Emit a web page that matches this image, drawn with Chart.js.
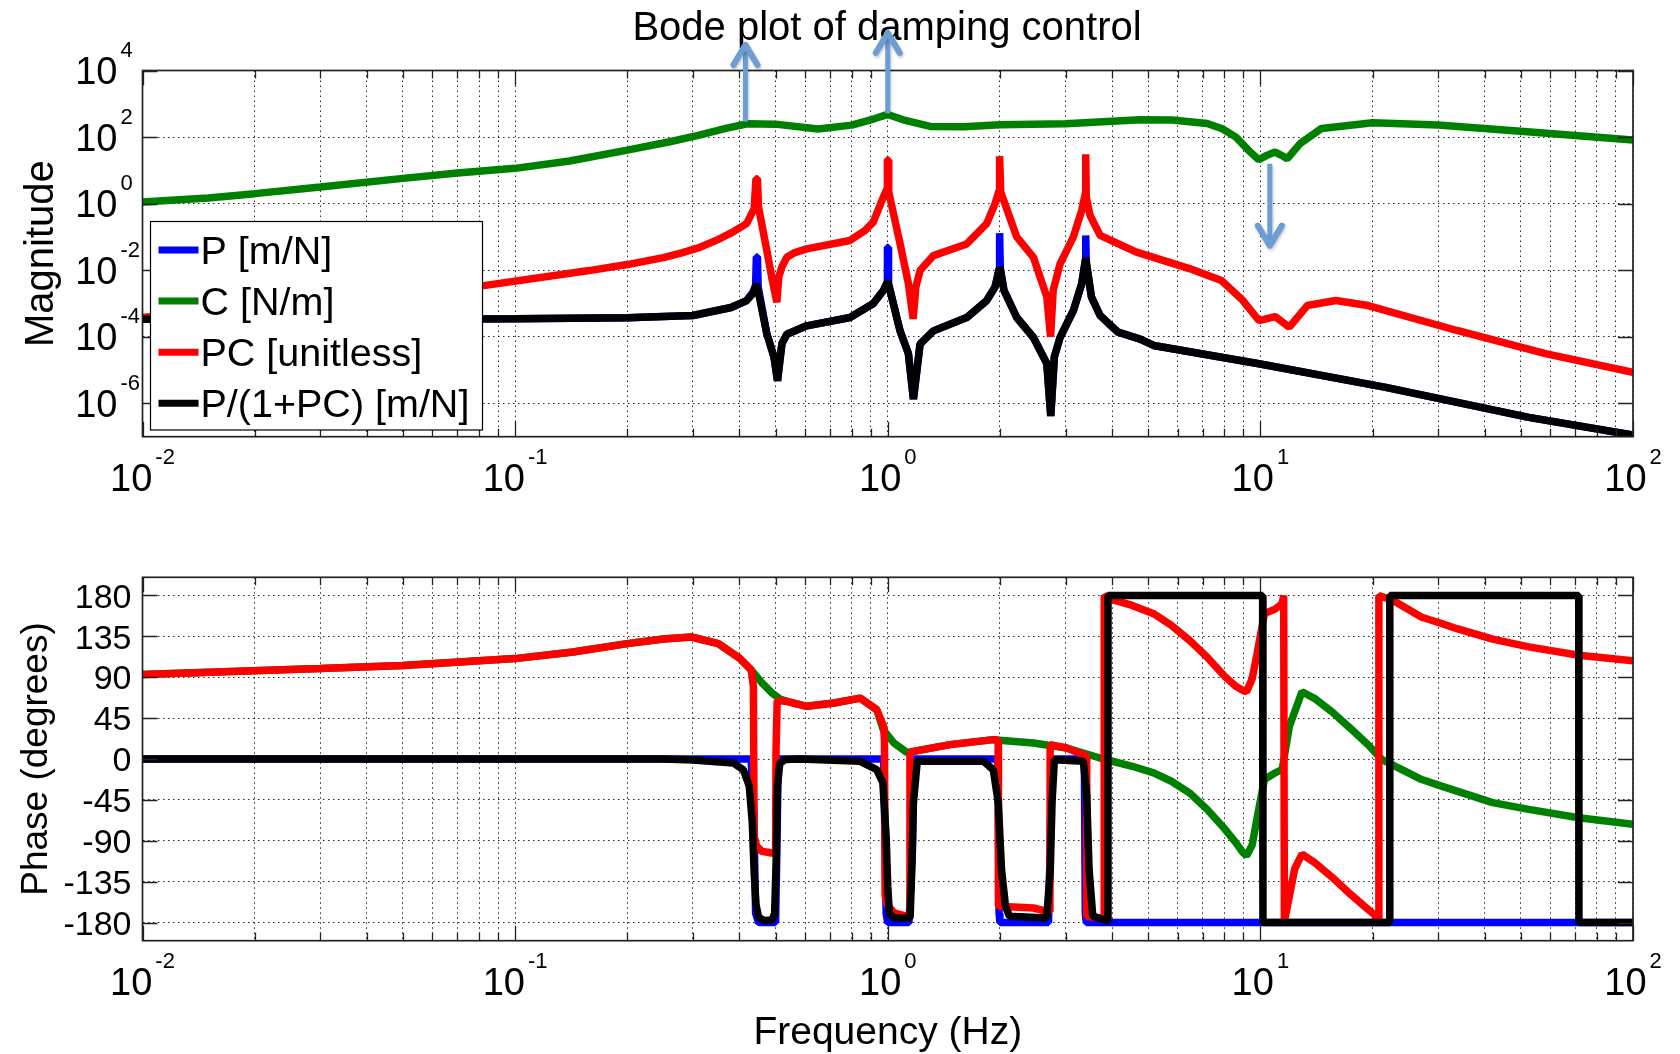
<!DOCTYPE html>
<html>
<head>
<meta charset="utf-8">
<title>Bode plot of damping control</title>
<script src="https://cdn.jsdelivr.net/npm/chart.js@4.4.1/dist/chart.umd.min.js"></script>
<style>
  html, body { margin: 0; padding: 0; background: #fff; }
  #wrap { position: relative; width: 1680px; height: 1054px; overflow: hidden; }
  canvas { position: absolute; left: 0; }
  #magChart { top: 0; }
  #phaseChart { top: 527px; }
</style>
</head>
<body>
<div id="wrap">
  <canvas id="magChart" width="1680" height="527"></canvas>
  <canvas id="phaseChart" width="1680" height="527"></canvas>
</div>
<script>
'use strict';

// ---- series ----
const SERIES_LABELS = ['P [m/N]', 'C [N/m]', 'PC [unitless]', 'P/(1+PC) [m/N]'];
const SERIES_COLORS = ['#0000ff', '#008000', '#ff0000', '#000000'];

// ---- magnitude (freq in Hz) ----
const P_MAG_F = [0.01, 0.05, 0.1, 0.2, 0.3, 0.38, 0.418, 0.435, 0.442, 0.444, 0.447, 0.449, 0.4735, 0.495, 0.506, 0.52, 0.536, 0.606, 0.792, 0.915, 0.973, 0.996, 0.998, 1.002, 1.005, 1.079, 1.136, 1.172, 1.221, 1.326, 1.629, 1.843, 1.941, 1.99, 1.993, 1.999, 2.005, 2.05, 2.219, 2.46, 2.672, 2.738, 2.8, 2.9, 3.149, 3.316, 3.39, 3.395, 3.402, 3.41, 3.52, 3.714, 4.15, 4.755, 5.17, 9.91, 21.7, 52.5, 100];
const P_MAG = [3.39e-4, 3.39e-4, 3.47e-4, 3.72e-4, 4.37e-4, 7.59e-4, 1.23e-3, 2.24e-3, 3.55e-3, 2.51e-2, 2.51e-2, 3.16e-3, 1.26e-4, 2.51e-5, 4.79e-6, 6.31e-5, 1.20e-4, 2.14e-4, 3.80e-4, 1.0e-3, 2.45e-3, 4.17e-3, 4.90e-2, 4.90e-2, 3.98e-3, 1.51e-4, 3.16e-5, 1.35e-6, 6.03e-5, 1.51e-4, 3.80e-4, 1.23e-3, 3.16e-3, 1.12e-2, 0.130, 0.130, 1.12e-2, 2.51e-3, 3.80e-4, 9.55e-5, 1.58e-5, 4.17e-7, 2.51e-5, 9.55e-5, 6.17e-4, 3.98e-3, 2.0e-2, 0.111, 0.111, 1.58e-2, 1.58e-3, 4.37e-4, 1.38e-4, 8.51e-5, 5.50e-5, 1.55e-5, 3.02e-6, 3.80e-7, 1.12e-7];

const C_MAG_F = [0.01, 0.015, 0.02, 0.03, 0.05, 0.07, 0.1, 0.14, 0.2, 0.26, 0.31, 0.37, 0.42, 0.5, 0.65, 0.8, 0.92, 1.0, 1.1, 1.3, 1.6, 2.0, 3.0, 4.75, 5.8, 7.2, 7.9, 8.6, 9.3, 9.9, 10.4, 10.95, 11.4, 11.8, 12.8, 14.6, 20, 30, 52, 100];
const C_MAG = [1.12, 1.48, 2.0, 3.16, 5.75, 8.32, 11.5, 19.1, 40.7, 72.4, 112, 186, 251, 245, 174, 229, 355, 479, 331, 209, 204, 234, 251, 331, 324, 257, 178, 100, 39.8, 20.9, 28.2, 35.5, 28.2, 22.4, 64.6, 182, 269, 229, 145, 81.3];

const PC_MAG_F = [0.01, 0.03, 0.0815, 0.158, 0.2, 0.25, 0.28, 0.31, 0.35, 0.38, 0.418, 0.438, 0.443, 0.447, 0.45, 0.4735, 0.49, 0.504, 0.51, 0.52, 0.536, 0.56, 0.606, 0.792, 0.87, 0.915, 0.973, 0.996, 0.998, 1.002, 1.006, 1.079, 1.136, 1.17, 1.19, 1.221, 1.326, 1.629, 1.843, 1.941, 1.99, 1.993, 1.999, 2.01, 2.219, 2.46, 2.672, 2.735, 2.78, 2.9, 3.149, 3.316, 3.39, 3.395, 3.402, 3.41, 3.49, 3.714, 4.63, 6.45, 7.86, 8.98, 9.91, 10.95, 11.96, 13.36, 15.94, 19.45, 33.7, 58.6, 100];
const PC_MAG = [3.80e-4, 1.12e-3, 3.39e-3, 9.77e-3, 1.48e-2, 2.40e-2, 3.31e-2, 4.68e-2, 8.32e-2, 0.132, 0.251, 0.708, 5.62, 5.62, 0.794, 3.98e-2, 5.01e-3, 1.10e-3, 6.31e-3, 1.26e-2, 2.45e-2, 3.31e-2, 4.37e-2, 7.85e-2, 0.158, 0.282, 1.58, 2.82, 21.1, 21.1, 2.24, 6.31e-2, 3.98e-3, 3.47e-4, 3.16e-3, 9.77e-3, 2.75e-2, 6.17e-2, 0.251, 1.0, 2.51, 26.6, 26.6, 2.24, 0.1, 2.45e-2, 1.58e-3, 1.0e-4, 2.51e-3, 1.55e-2, 0.1, 0.631, 2.0, 30.5, 30.5, 1.58, 0.447, 0.112, 3.55e-2, 1.12e-2, 4.90e-3, 1.23e-3, 3.09e-4, 4.07e-4, 1.95e-4, 8.71e-4, 1.23e-3, 8.71e-4, 1.55e-4, 3.09e-5, 8.51e-6];

const CL_MAG_F = [0.01, 0.05, 0.1, 0.2, 0.3, 0.38, 0.418, 0.435, 0.445, 0.4735, 0.495, 0.506, 0.52, 0.536, 0.606, 0.792, 0.915, 0.973, 1.0, 1.079, 1.136, 1.172, 1.221, 1.326, 1.629, 1.843, 1.941, 2.0, 2.05, 2.219, 2.46, 2.672, 2.738, 2.8, 2.9, 3.149, 3.316, 3.40, 3.52, 3.714, 4.15, 4.755, 5.17, 9.91, 21.7, 52.5, 100];
const CL_MAG = [3.39e-4, 3.39e-4, 3.47e-4, 3.72e-4, 4.37e-4, 7.59e-4, 1.23e-3, 2.0e-3, 3.89e-3, 1.26e-4, 2.51e-5, 4.79e-6, 6.31e-5, 1.20e-4, 2.14e-4, 3.80e-4, 1.0e-3, 2.45e-3, 4.68e-3, 1.51e-4, 3.16e-5, 1.35e-6, 6.03e-5, 1.51e-4, 3.80e-4, 1.23e-3, 3.16e-3, 1.23e-2, 2.51e-3, 3.80e-4, 9.55e-5, 1.58e-5, 4.17e-7, 2.51e-5, 9.55e-5, 6.17e-4, 3.98e-3, 2.34e-2, 1.58e-3, 4.37e-4, 1.38e-4, 8.51e-5, 5.50e-5, 1.55e-5, 3.02e-6, 3.80e-7, 1.12e-7];

// ---- phase (degrees) ----
const P_PH_F = [0.01, 0.43, 0.437, 0.442, 0.45, 0.5, 0.504, 0.508, 0.512, 0.975, 0.99, 1.0, 1.14, 1.165, 1.175, 1.975, 1.99, 2.0, 2.7, 2.73, 2.75, 3.37, 3.39, 3.41, 100];
const P_PH = [0, 0, -60, -170, -180, -180, -100, -5, 0, 0, -170, -180, -180, -100, 0, 0, -170, -180, -180, -90, 0, 0, -170, -180, -180];

const C_PH_F = [0.01, 0.03, 0.05, 0.1, 0.143, 0.2, 0.25, 0.297, 0.351, 0.40, 0.43, 0.459, 0.488, 0.514, 0.536, 0.606, 0.718, 0.843, 0.934, 0.973, 1.039, 1.125, 1.172, 1.47, 1.92, 2.46, 3.02, 3.71, 4.53, 5.17, 5.77, 6.45, 7.2, 8.04, 8.59, 8.98, 9.18, 9.5, 9.8, 10.25, 10.95, 11.44, 11.96, 12.93, 13.96, 15.56, 17.41, 19.45, 21.2, 27.1, 30.2, 33.7, 42, 52.5, 71.5, 100];
const C_PH = [92.9, 99.5, 103, 110.5, 117.8, 127, 132, 134.3, 127, 111, 98, 84, 73, 66, 63.5, 58, 61.7, 67, 54.3, 32, 17.6, 7.3, 8.4, 15.8, 21.3, 17.6, 12.1, 1.1, -8, -15.3, -24.5, -37.2, -55.5, -77.4, -92, -103, -106.6, -95, -65, -22.6, -15.3, -11.7, 35.8, 74, 66.8, 52, 34, 15.7, -0.7, -22.6, -29, -35.4, -48, -55.5, -64.6, -71.9];

const PC_PH_F = [0.01, 0.03, 0.05, 0.1, 0.143, 0.2, 0.25, 0.297, 0.351, 0.40, 0.43, 0.436, 0.438, 0.445, 0.459, 0.488, 0.5, 0.5014, 0.505, 0.536, 0.606, 0.718, 0.843, 0.934, 0.975, 0.98, 0.984, 0.995, 1.04, 1.12, 1.143, 1.147, 1.172, 1.47, 1.92, 1.978, 1.982, 2.46, 2.67, 2.724, 2.728, 3.02, 3.35, 3.415, 3.42, 3.71, 3.805, 3.81, 3.97, 4.53, 5.17, 5.77, 6.45, 7.2, 8.04, 8.59, 8.98, 9.18, 9.5, 9.8, 10.25, 10.95, 11.44, 11.55, 11.6, 11.65, 12.36, 12.93, 13.96, 15.56, 17.41, 19, 20.3, 20.75, 20.8, 22.7, 27.1, 30.2, 33.7, 42, 52.5, 71.5, 100];
const PC_PH = [92.9, 99.5, 103, 110.5, 117.8, 127, 132, 134.3, 127, 111, 98, 80, -85, -96, -101.6, -103.5, -104, 10, 64, 63.5, 58, 61.7, 67, 54.3, 36, 20, -150, -160, -169.5, -173, -172, 6, 8.4, 15.8, 21.3, 21, -162, -164, -167.7, -168, 15.8, 12.1, 4.8, 3, -173, -175, -176, 180, 176, 169, 160, 147, 130.7, 112, 90.5, 80, 75.5, 74, 88, 116, 160, 165, 171, 180, -180, -175, -121, -104.7, -113.9, -130, -148.5, -162, -172, -179, 180, 174.5, 156, 150, 143.4, 132, 123.4, 114.2, 108];

const CL_PH_F = [0.01, 0.25, 0.3, 0.385, 0.41, 0.425, 0.433, 0.438, 0.443, 0.45, 0.465, 0.49, 0.497, 0.502, 0.506, 0.513, 0.53, 0.58, 0.843, 0.934, 0.97, 0.99, 1.0, 1.01, 1.04, 1.148, 1.16, 1.172, 1.2, 1.81, 1.92, 1.98, 2.02, 2.07, 2.12, 2.67, 2.73, 2.76, 2.8, 3.35, 3.42, 3.47, 3.55, 3.88, 3.9, 10.14, 10.16, 22.2, 22.25, 71.5, 71.6, 100];
const CL_PH = [0, 0, -1, -4.4, -12, -30, -70, -125, -160, -174, -178, -177, -170, -110, -30, -5, -0.5, 0, -2.6, -11.7, -26, -85, -140, -170, -175, -175, -122, -48, -2.6, -2.6, -12, -48, -122, -162, -173, -175, -122, -48, -0.7, -2.6, -41, -122, -173, -178, 180, 180, -180, -180, 180, 180, -180, -180];

// ---- ticks ----
const X_GRID = [0.01, 0.02, 0.03, 0.04, 0.05, 0.06, 0.07, 0.08, 0.09, 0.1, 0.2, 0.3, 0.4, 0.5, 0.6, 0.7, 0.8, 0.9, 1, 2, 3, 4, 5, 6, 7, 8, 9, 10, 20, 30, 40, 50, 60, 70, 80, 90, 100];
const X_DECADES = [0.01, 0.1, 1, 10, 100];
const X_EXP = ['-2', '-1', '0', '1', '2'];
const MAG_TICKS = [1e-6, 1e-4, 1e-2, 1, 1e2, 1e4];
const MAG_EXP = ['-6', '-4', '-2', '0', '2', '4'];
const PHASE_TICKS = [-180, -135, -90, -45, 0, 45, 90, 135, 180];

// annotation arrows (freq, from, to) in magnitude units
const ARROW_F = [0.415, 1.0, 10.6];
const ARROW_FROM = [288, 513, 15.8];
const ARROW_TO = [5.9e4, 1.35e5, 0.055];

const FONT = '"Liberation Sans", Arial, Helvetica, sans-serif';
const AXIS_COLOR = '#222';
const GRID_COLOR = 'rgba(0,0,0,0.85)';
const ARROW_COLOR = '#6c9dd3';
const LINE_W = 7.5;

function points(fs, vs) { return fs.map((f, i) => ({ x: f, y: vs[i] })); }

function dataset(i, fs, vs) {
  return {
    label: SERIES_LABELS[i],
    data: points(fs, vs),
    borderColor: SERIES_COLORS[i],
    backgroundColor: SERIES_COLORS[i],
    borderWidth: LINE_W,
    pointRadius: 0,
    tension: 0,
    fill: false,
    borderJoinStyle: 'bevel',
    borderCapStyle: 'butt',
    order: 4 - i
  };
}

function drawPower(ctx, x, base, exp, align) {
  ctx.font = '38px ' + FONT;
  const w10 = ctx.measureText('10').width;
  ctx.font = '22px ' + FONT;
  const ws = ctx.measureText(exp).width;
  const gap = 3;
  const left = align === 'center' ? x - (w10 + gap + ws) / 2 : x - w10;
  ctx.textAlign = 'left';
  ctx.textBaseline = 'alphabetic';
  ctx.font = '38px ' + FONT;
  ctx.fillText('10', left, base);
  ctx.font = '22px ' + FONT;
  ctx.fillText(exp, left + w10 + gap, base - 27);
}

function drawArrow(ctx, px, y0, y1) {
  const dir = y1 > y0 ? 1 : -1;
  ctx.save();
  ctx.strokeStyle = ARROW_COLOR;
  ctx.shadowColor = 'rgba(0,0,0,0.22)';
  ctx.shadowBlur = 3; ctx.shadowOffsetX = 1; ctx.shadowOffsetY = 2;
  ctx.lineWidth = 5; ctx.lineCap = 'butt';
  ctx.beginPath(); ctx.moveTo(px, y0); ctx.lineTo(px, y1 - dir * 3); ctx.stroke();
  ctx.lineWidth = 6; ctx.lineCap = 'round'; ctx.lineJoin = 'round';
  ctx.beginPath();
  ctx.moveTo(px - 12, y1 - dir * 20); ctx.lineTo(px, y1); ctx.lineTo(px + 12, y1 - dir * 20);
  ctx.stroke();
  ctx.restore();
}

function drawLegend(ctx, chart) {
  const L = 150.5, T = 221.5, W = 332, H = 208.5;
  ctx.fillStyle = '#fff'; ctx.fillRect(L, T, W, H);
  ctx.strokeStyle = '#000'; ctx.lineWidth = 1.2; ctx.strokeRect(L, T, W, H);
  ctx.font = '39.5px ' + FONT; ctx.textAlign = 'left'; ctx.textBaseline = 'alphabetic';
  chart.data.datasets.forEach((ds, i) => {
    const cy = T + 28.5 + i * 51.1;
    ctx.strokeStyle = ds.borderColor; ctx.lineWidth = 7; ctx.lineCap = 'butt';
    ctx.beginPath(); ctx.moveTo(L + 8, cy); ctx.lineTo(L + 48, cy); ctx.stroke();
    ctx.fillStyle = '#000';
    ctx.fillText(ds.label, L + 50, cy + 14);
  });
}

function framePlugin(cfg) {
  return {
    id: 'frame',
    afterDatasetsDraw(chart) {
      const { ctx, chartArea: a } = chart;
      const x = chart.scales.x, y = chart.scales.y;
      ctx.save();
      ctx.strokeStyle = AXIS_COLOR;
      ctx.lineWidth = 1.3;
      ctx.beginPath();
      X_GRID.forEach(v => {
        const px = Math.round(x.getPixelForValue(v)) + 0.5;
        const len = X_DECADES.includes(v) ? 15 : 8;
        ctx.moveTo(px, a.bottom); ctx.lineTo(px, a.bottom - len);
        ctx.moveTo(px, a.top); ctx.lineTo(px, a.top + len);
      });
      cfg.yTicks.forEach(v => {
        const py = Math.round(y.getPixelForValue(v)) + 0.5;
        ctx.moveTo(a.left, py); ctx.lineTo(a.left + 15, py);
        ctx.moveTo(a.right, py); ctx.lineTo(a.right - 15, py);
      });
      ctx.stroke();
      ctx.lineWidth = 1.7;
      ctx.strokeRect(a.left, a.top, a.right - a.left, a.bottom - a.top);
      ctx.restore();
    },
    afterDraw(chart) {
      const { ctx, chartArea: a } = chart;
      const x = chart.scales.x, y = chart.scales.y;
      ctx.save();
      ctx.fillStyle = '#000';
      X_DECADES.forEach((v, i) => drawPower(ctx, x.getPixelForValue(v), a.bottom + 54, X_EXP[i], 'center'));
      if (cfg.kind === 'mag') {
        MAG_TICKS.forEach((v, i) => drawPower(ctx, a.left - 25, y.getPixelForValue(v) + 13.6, MAG_EXP[i], 'right'));
      } else {
        ctx.font = '34px ' + FONT; ctx.textAlign = 'right'; ctx.textBaseline = 'alphabetic';
        PHASE_TICKS.forEach(v => ctx.fillText(String(v), a.left - 11, y.getPixelForValue(v) + 12.2));
      }
      // y axis title
      ctx.save();
      ctx.translate(cfg.yTitleX, (a.top + a.bottom) / 2);
      ctx.rotate(-Math.PI / 2);
      ctx.font = cfg.yTitleSize + 'px ' + FONT; ctx.textAlign = 'center'; ctx.textBaseline = 'alphabetic';
      ctx.fillText(cfg.yTitle, 0, 0);
      ctx.restore();

      if (cfg.kind === 'mag') {
        ctx.font = '40px ' + FONT; ctx.textAlign = 'center'; ctx.textBaseline = 'alphabetic';
        ctx.fillText('Bode plot of damping control', 887, 40);
        ARROW_F.forEach((f, i) => drawArrow(ctx, x.getPixelForValue(f), y.getPixelForValue(ARROW_FROM[i]), y.getPixelForValue(ARROW_TO[i])));
        drawLegend(ctx, chart);
      } else {
        ctx.font = '39px ' + FONT; ctx.textAlign = 'center'; ctx.textBaseline = 'alphabetic';
        ctx.fillText('Frequency (Hz)', (a.left + a.right) / 2, a.bottom + 103);
      }
      ctx.restore();
    }
  };
}

function xScale() {
  return {
    type: 'logarithmic', min: 0.01, max: 100,
    afterBuildTicks: s => { s.ticks = X_GRID.map(v => ({ value: v })); },
    afterFit: s => { s.height = 0; },
    ticks: { display: false },
    grid: { color: GRID_COLOR, lineWidth: 1, drawTicks: false },
    border: { display: false, dash: [1.5, 3.5] }
  };
}

function yScale(type, min, max, ticks) {
  return {
    type, min, max,
    afterBuildTicks: s => { s.ticks = ticks.map(v => ({ value: v })); },
    afterFit: s => { s.width = 0; },
    ticks: { display: false },
    grid: { color: GRID_COLOR, lineWidth: 1, drawTicks: false },
    border: { display: false, dash: [1.5, 3.5] }
  };
}

function baseOptions(padding, yCfg) {
  return {
    responsive: false,
    devicePixelRatio: 1,
    animation: false,
    layout: { padding },
    plugins: { legend: { display: false }, tooltip: { enabled: false }, title: { display: false } },
    scales: { x: xScale(), y: yCfg }
  };
}

new Chart(document.getElementById('magChart'), {
  type: 'line',
  data: {
    datasets: [
      dataset(0, P_MAG_F, P_MAG),
      dataset(1, C_MAG_F, C_MAG),
      dataset(2, PC_MAG_F, PC_MAG),
      dataset(3, CL_MAG_F, CL_MAG)
    ]
  },
  options: baseOptions({ left: 142.5, right: 47, top: 70.5, bottom: 90.3 },
    yScale('logarithmic', 1e-7, 1e4, MAG_TICKS)),
  plugins: [framePlugin({ kind: 'mag', yTicks: MAG_TICKS, yTitle: 'Magnitude', yTitleX: 53, yTitleSize: 40 })]
});

new Chart(document.getElementById('phaseChart'), {
  type: 'line',
  data: {
    datasets: [
      dataset(0, P_PH_F, P_PH),
      dataset(1, C_PH_F, C_PH),
      dataset(2, PC_PH_F, PC_PH),
      dataset(3, CL_PH_F, CL_PH)
    ]
  },
  options: baseOptions({ left: 142.5, right: 47, top: 50.3, bottom: 113.3 },
    yScale('linear', -200, 200, PHASE_TICKS)),
  plugins: [framePlugin({ kind: 'phase', yTicks: PHASE_TICKS, yTitle: 'Phase (degrees)', yTitleX: 47, yTitleSize: 37 })]
});
</script>
</body>
</html>
